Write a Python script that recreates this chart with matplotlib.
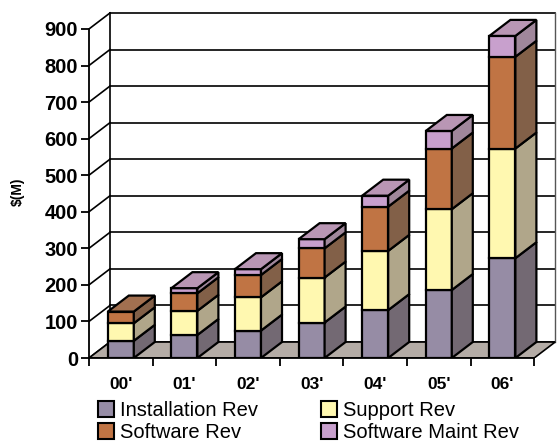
import numpy as np
import matplotlib.pyplot as plt
from matplotlib.patches import Polygon, Patch

# revenue by year, $M
years = ["00'", "01'", "02'", "03'", "04'", "05'", "06'"]
installation = [47, 63, 75, 97, 131, 186, 273]
support = [48, 66, 91, 123, 162, 221, 300]
software = [32, 48, 61, 80, 121, 166, 251]
maint = [0, 14, 16, 25, 30, 48, 57]
series_names = ['Installation Rev', 'Support Rev', 'Software Rev', 'Software Maint Rev']
yticks = [0, 100, 200, 300, 400, 500, 600, 700, 800, 900]

# front, side, top shades per series
front_cols = ['#968ca5', '#fff8b0', '#c07444', '#c8a0cd']
side_cols = ['#736973', '#b0a68a', '#826048', '#a0879b']
top_cols = ['#8c8096', '#d8d0a0', '#a27050', '#b996b4']

plt.rcParams['font.family'] = ['Liberation Sans', 'DejaVu Sans']

fig = plt.figure(figsize=(5.57, 4.42), dpi=100)
W, H = 557.0, 442.0
px_cat = 63.6     # px per category
px_val = 0.3656   # px per $M
ax = fig.add_axes([89/W, 84/H, (W-89)/W, 355/H])
ax.set_xlim(-0.5, -0.5 + (W-89)/px_cat)
ax.set_ylim(0, 355/px_val)

# oblique depth
DX = 21/px_cat
DY = 16/px_val
n = len(years)
x0, x1 = -0.5, n - 0.5
ymax = yticks[-1]

# back wall grid and side diagonals
for v in yticks:
    ax.plot([x0, x0+DX], [v, v+DY], color='black', lw=1.2, zorder=1)
    ax.plot([x0+DX, x1+DX], [v+DY, v+DY], color='black', lw=1.2, zorder=1)
ax.plot([x0+DX, x0+DX], [DY, ymax+DY], color='black', lw=1.2, zorder=1)
ax.plot([x1+DX, x1+DX], [DY, ymax+DY], color='#555555', lw=1.0, zorder=1)

# floor
ax.add_patch(Polygon([(x0, 0), (x1, 0), (x1+DX, DY), (x0+DX, DY)], closed=True,
                     facecolor='#b4aca6', edgecolor='black', lw=1.2, zorder=2))

bw = 26/px_cat
stack = np.array([installation, support, software, maint], dtype=float)
for i in range(n):
    xl, xr = i - bw/2, i + bw/2
    base = 0.0
    top_idx = max(k for k in range(4) if stack[k, i] > 0)
    for k in range(4):
        h = stack[k, i]
        if h <= 0:
            continue
        y0, y1 = base, base + h
        ax.add_patch(Polygon([(xl, y0), (xr, y0), (xr, y1), (xl, y1)], closed=True,
                             facecolor=front_cols[k], edgecolor='black', lw=1.6, zorder=3))
        ax.add_patch(Polygon([(xr, y0), (xr+DX, y0+DY), (xr+DX, y1+DY), (xr, y1)], closed=True,
                             facecolor=side_cols[k], edgecolor='black', lw=1.6, zorder=3))
        if k == top_idx:
            ax.add_patch(Polygon([(xl, y1), (xr, y1), (xr+DX, y1+DY), (xl+DX, y1+DY)], closed=True,
                                 facecolor=top_cols[k], edgecolor='black', lw=1.6, zorder=3))
        base = y1

# axes styling
for s in ['top', 'right']:
    ax.spines[s].set_visible(False)
ax.spines['left'].set_bounds(0, ymax)
ax.spines['bottom'].set_bounds(x0, x1)
ax.spines['left'].set_linewidth(1.3)
ax.spines['bottom'].set_linewidth(1.3)
ax.set_yticks(yticks)
ax.set_yticklabels([str(v) for v in yticks], fontsize=14.5, fontweight='bold')
ax.tick_params(axis='y', length=6, width=1.3, pad=2)
ax.set_xticks(range(n))
ax.set_xticklabels(years, fontsize=12.5, fontweight='bold')
ax.set_xticks(np.arange(n+1) - 0.5, minor=True)
ax.tick_params(axis='x', which='major', length=0, pad=14)
ax.tick_params(axis='x', which='minor', length=6, width=1.3)

fig.text(18/W, 1 - 192/H, '$(M)', rotation=90, fontsize=10, fontweight='bold',
         ha='center', va='center')

handles = [Patch(facecolor=front_cols[k], edgecolor='black', lw=1.5) for k in [0, 2, 1, 3]]
labels = [series_names[k] for k in [0, 2, 1, 3]]
fig.legend(handles, labels, ncol=2, frameon=False, loc='upper left',
           bbox_to_anchor=(98/W, 1 - 401/H), fontsize=14.5, handlelength=0.8,
           handleheight=0.8, handletextpad=0.3, columnspacing=3.1, labelspacing=0.15,
           borderaxespad=0, borderpad=0)

fig.savefig('out.png', dpi=100)
